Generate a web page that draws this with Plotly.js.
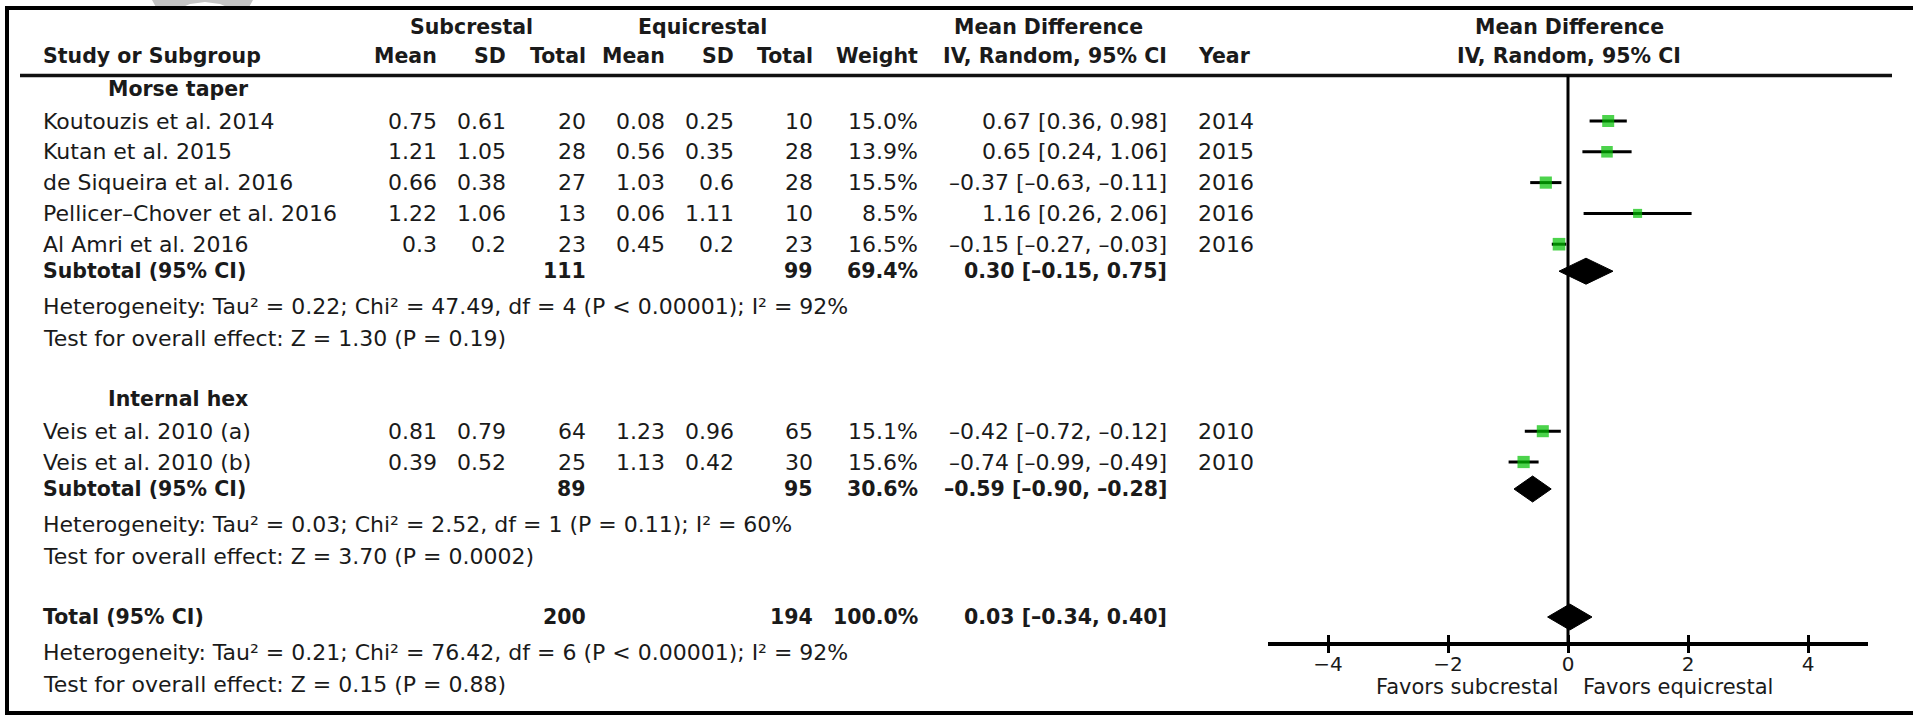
<!DOCTYPE html>
<html>
<head>
<meta charset="utf-8">
<script src="https://cdn.plot.ly/plotly-3.0.1.min.js"></script>
<style>html,body{margin:0;padding:0;background:#fff;overflow:hidden}</style>
</head>
<body>
<div id="chart" style="width:1913px;height:715px"></div>
<script>
// ---------------- data ----------------
const groupNames = ["Morse taper", "Internal hex"];
const studies = ["Koutouzis et al. 2014", "Kutan et al. 2015", "de Siqueira et al. 2016",
  "Pellicer\u2013Chover et al. 2016", "Al Amri et al. 2016", "Veis et al. 2010 (a)", "Veis et al. 2010 (b)"];
const studyGroup = [0, 0, 0, 0, 0, 1, 1];
const subMean = [0.75, 1.21, 0.66, 1.22, 0.3, 0.81, 0.39];
const subSD   = [0.61, 1.05, 0.38, 1.06, 0.2, 0.79, 0.52];
const subN    = [20, 28, 27, 13, 23, 64, 25];
const eqMean  = [0.08, 0.56, 1.03, 0.06, 0.45, 1.23, 1.13];
const eqSD    = [0.25, 0.35, 0.6, 1.11, 0.2, 0.96, 0.42];
const eqN     = [10, 28, 28, 10, 23, 65, 30];
const weight  = [15.0, 13.9, 15.5, 8.5, 16.5, 15.1, 15.6];
const md      = [0.67, 0.65, -0.37, 1.16, -0.15, -0.42, -0.74];
const ciLo    = [0.36, 0.24, -0.63, 0.26, -0.27, -0.72, -0.99];
const ciHi    = [0.98, 1.06, -0.11, 2.06, -0.03, -0.12, -0.49];
const year    = [2014, 2015, 2016, 2016, 2016, 2010, 2010];

const grpSubN   = [111, 89];
const grpEqN    = [99, 95];
const grpWeight = [69.4, 30.6];
const grpMD     = [0.30, -0.59];
const grpLo     = [-0.15, -0.90];
const grpHi     = [0.75, -0.28];
const grpHet    = ["Heterogeneity: Tau\u00b2 = 0.22; Chi\u00b2 = 47.49, df = 4 (P < 0.00001); I\u00b2 = 92%",
                   "Heterogeneity: Tau\u00b2 = 0.03; Chi\u00b2 = 2.52, df = 1 (P = 0.11); I\u00b2 = 60%"];
const grpTest   = ["Test for overall effect: Z = 1.30 (P = 0.19)",
                   "Test for overall effect: Z = 3.70 (P = 0.0002)"];

const totSubN = 200, totEqN = 194, totWeight = 100.0;
const totMD = 0.03, totLo = -0.34, totHi = 0.40;
const totHet  = "Heterogeneity: Tau\u00b2 = 0.21; Chi\u00b2 = 76.42, df = 6 (P < 0.00001); I\u00b2 = 92%";
const totTest = "Test for overall effect: Z = 0.15 (P = 0.88)";

const tickVals = [-4, -2, 0, 2, 4];
const favLeft = "Favors subcrestal", favRight = "Favors equicrestal";

// ---------------- layout helpers ----------------
const W = 1913, H = 715;
const FONT = "DejaVu Sans, Verdana, sans-serif";
const COL = "#1a1a1a";
const REG = 22, BOLD = 20.5;
// vertical steps between row types (px)
const STEP = {first: 32, study: 30.8, sub: 27, het: 35, test: 32, section: 61};
const HEAD1 = 27, HEAD2 = 56, FIRST_GROUP = 89, RULE = 75.5, AXIS = 643;

const fmtCI = (m, l, h) => (m.toFixed(2) + " [" + l.toFixed(2) + ", " + h.toFixed(2) + "]").replace(/-/g, "\u2013");

const ann = [];
function txt(text, xpx, ypx, anchor, bold) {
  ann.push({
    text: bold ? "<b>" + text + "</b>" : text,
    xref: "paper", x: xpx / W, yref: "y", y: ypx,
    xanchor: anchor, yanchor: "middle", showarrow: false,
    font: {family: FONT, size: bold ? BOLD : REG, color: COL}
  });
}

// column x positions (px)
const C = {label: 41, grp: 106, sM: 439, sSD: 508, sN: 588, eM: 667, eSD: 736, eN: 815,
           wt: 920, ci: 1169, yr: 1196, subHead: 471, eqHead: 702, mdHead: 1048, plotHead: 1569};

// headers
txt("Subcrestal", C.subHead, HEAD1, "center", true);
txt("Equicrestal", C.eqHead, HEAD1, "center", true);
txt("Mean Difference", C.mdHead, HEAD1, "center", true);
txt("Mean Difference", C.plotHead, HEAD1, "center", true);
txt("Study or Subgroup", C.label, HEAD2, "left", true);
txt("Mean", C.sM, HEAD2, "right", true);
txt("SD", C.sSD, HEAD2, "right", true);
txt("Total", C.sN, HEAD2, "right", true);
txt("Mean", C.eM, HEAD2, "right", true);
txt("SD", C.eSD, HEAD2, "right", true);
txt("Total", C.eN, HEAD2, "right", true);
txt("Weight", C.wt, HEAD2, "right", true);
txt("IV, Random, 95% CI", C.ci, HEAD2, "right", true);
txt("Year", C.yr, HEAD2, "left", true);
txt("IV, Random, 95% CI", C.plotHead, HEAD2, "center", true);

// rows
const studyY = [], grpY = [];
let y = FIRST_GROUP;
groupNames.forEach((g, gi) => {
  txt(g, C.grp, y, "left", true);
  let first = true;
  studies.forEach((s, i) => {
    if (studyGroup[i] !== gi) return;
    y += first ? STEP.first : STEP.study; first = false;
    studyY[i] = y;
    txt(s, C.label, y, "left", false);
    txt(String(subMean[i]), C.sM, y, "right", false);
    txt(String(subSD[i]), C.sSD, y, "right", false);
    txt(String(subN[i]), C.sN, y, "right", false);
    txt(String(eqMean[i]), C.eM, y, "right", false);
    txt(String(eqSD[i]), C.eSD, y, "right", false);
    txt(String(eqN[i]), C.eN, y, "right", false);
    txt(weight[i].toFixed(1) + "%", C.wt, y, "right", false);
    txt(fmtCI(md[i], ciLo[i], ciHi[i]), C.ci, y, "right", false);
    txt(String(year[i]), C.yr, y, "left", false);
  });
  y += STEP.sub; grpY[gi] = y;
  txt("Subtotal (95% CI)", C.label, y, "left", true);
  txt(String(grpSubN[gi]), C.sN, y, "right", true);
  txt(String(grpEqN[gi]), C.eN, y, "right", true);
  txt(grpWeight[gi].toFixed(1) + "%", C.wt, y, "right", true);
  txt(fmtCI(grpMD[gi], grpLo[gi], grpHi[gi]), C.ci, y, "right", true);
  y += STEP.het; txt(grpHet[gi], C.label, y, "left", false);
  y += STEP.test; txt(grpTest[gi], C.label, y, "left", false);
  y += STEP.section;
});
const totY = y;
txt("Total (95% CI)", C.label, totY, "left", true);
txt(String(totSubN), C.sN, totY, "right", true);
txt(String(totEqN), C.eN, totY, "right", true);
txt(totWeight.toFixed(1) + "%", C.wt, totY, "right", true);
txt(fmtCI(totMD, totLo, totHi), C.ci, totY, "right", true);
txt(totHet, C.label, totY + STEP.het, "left", false);
txt(totTest, C.label, totY + STEP.het + STEP.test, "left", false);

// favours labels
const FAV_Y = totY + STEP.het + STEP.test + 3;
ann.push({text: favLeft, xref: "x", x: 0, xshift: -7, yref: "y", y: FAV_Y, xanchor: "right", yanchor: "middle",
  showarrow: false, font: {family: FONT, size: 21, color: COL}});
ann.push({text: favRight, xref: "x", x: 0, xshift: 13, yref: "y", y: FAV_Y, xanchor: "left", yanchor: "middle",
  showarrow: false, font: {family: FONT, size: 21, color: COL}});

// ---------------- traces ----------------
const DIAM_H = 13;
const traces = [];
traces.push({
  type: "scatter", mode: "markers", x: md, y: studyY,
  marker: {symbol: "square", color: "#00c000", size: weight.map(w => 3.1 * Math.sqrt(w)), line: {width: 0}},
  error_x: {type: "data", symmetric: false, array: md.map((m, i) => ciHi[i] - m),
            arrayminus: md.map((m, i) => m - ciLo[i]), color: "#000", thickness: 3, width: 0},
  hoverinfo: "skip", showlegend: false, cliponaxis: false
});
function diamond(m, l, h, yy) {
  traces.push({type: "scatter", mode: "lines", x: [l, m, h, m, l], y: [yy, yy - DIAM_H, yy, yy + DIAM_H, yy],
    fill: "toself", fillcolor: "#000", line: {color: "#000", width: 1}, hoverinfo: "skip", showlegend: false});
}
grpMD.forEach((m, gi) => diamond(m, grpLo[gi], grpHi[gi], grpY[gi]));
diamond(totMD, totLo, totHi, totY);
// helper trace for the upper tick axis
traces.push({type: "scatter", mode: "markers", x: [0], y: [-500], xaxis: "x2", yaxis: "y",
  marker: {size: 0, opacity: 0}, hoverinfo: "skip", showlegend: false});

// ---------------- shapes ----------------
const P = (x, yy) => (x / W).toFixed(5) + "," + (1 - yy / H).toFixed(5);
const shapes = [
  // faint watermark fragment above the frame
  {type: "path", xref: "paper", yref: "paper", layer: "below", fillcolor: "#c4c4c4", line: {width: 0},
   path: "M" + P(152, 0) + " L" + P(157, 9) + " L" + P(178, 9) + " L" + P(190, 4) + " L" + P(205, 2) +
         " L" + P(220, 4) + " L" + P(232, 9) + " L" + P(248, 9) + " L" + P(253, 0) + " Z"},
  // frame
  {type: "rect", xref: "paper", yref: "paper", x0: 7 / W, x1: 1 + 6 / W, y0: 1 - 713 / H, y1: 1 - 8 / H,
   line: {color: "#000", width: 4}, fillcolor: "rgba(0,0,0,0)"},
  // header rule
  {type: "line", xref: "paper", yref: "y", x0: 20 / W, x1: 1892 / W, y0: RULE, y1: RULE,
   line: {color: "#111", width: 3.5}},
  // line of no effect
  {type: "line", xref: "x", yref: "y", x0: 0, x1: 0, y0: RULE, y1: AXIS,
   line: {color: "#000", width: 3}}
];

const axPos = 1 - AXIS / H;
const dom = [1268 / W, 1868 / W];
const layout = {
  width: W, height: H, margin: {l: 0, r: 0, t: 0, b: 0, pad: 0},
  paper_bgcolor: "#fff", plot_bgcolor: "rgba(0,0,0,0)", showlegend: false, hovermode: false,
  font: {family: FONT, color: COL},
  xaxis: {domain: dom, range: [-5, 5], anchor: "free", position: axPos, showline: true, linecolor: "#000",
    linewidth: 3.5, ticks: "outside", ticklen: 7, tickwidth: 3, tickcolor: "#000", tickvals: tickVals,
    ticklabelstandoff: -6,
    tickfont: {family: FONT, size: 20, color: COL}, showgrid: false, zeroline: false, fixedrange: true},
  xaxis2: {domain: dom, range: [-5, 5], overlaying: "x", anchor: "free", position: axPos, side: "top",
    showline: false, ticks: "outside", ticklen: 8, tickwidth: 3, tickcolor: "#000", tickvals: tickVals,
    showticklabels: false, showgrid: false, zeroline: false, fixedrange: true},
  yaxis: {domain: [0, 1], range: [H, 0], visible: false, showgrid: false, zeroline: false, fixedrange: true},
  annotations: ann,
  shapes: shapes
};

Plotly.newPlot("chart", traces, layout, {staticPlot: true, displayModeBar: false});
</script>
</body>
</html>
